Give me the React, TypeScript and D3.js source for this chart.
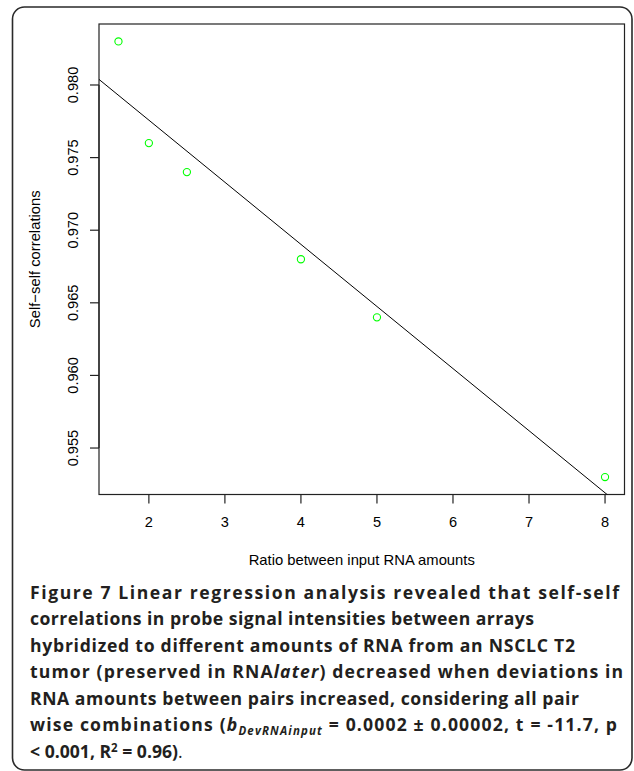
import React from "react";
import * as d3 from "d3";

const xValues = [1.6, 2, 2.5, 4, 5, 8];
const yValues = [0.983, 0.976, 0.974, 0.968, 0.964, 0.953];
const xTicks = [2, 3, 4, 5, 6, 7, 8];
const yTicks = [0.955, 0.96, 0.965, 0.97, 0.975, 0.98];
const xTitle = "Ratio between input RNA amounts";
const yTitle = "Self\u2212self correlations";

type Seg = { t: string; it?: boolean; sub?: boolean; sup?: boolean; reg?: boolean };
const captionLines: Seg[][] = [
  [{ t: "Figure 7 Linear regression analysis revealed that self-self" }],
  [{ t: "correlations in probe signal intensities between arrays" }],
  [{ t: "hybridized to different amounts of RNA from an NSCLC T2" }],
  [{ t: "tumor (preserved in RNA" }, { t: "later", it: true }, { t: ") decreased when deviations in" }],
  [{ t: "RNA amounts between pairs increased, considering all pair" }],
  [
    { t: "wise combinations (" },
    { t: "b", it: true },
    { t: "DevRNAinput", it: true, sub: true },
    { t: " = 0.0002 \u00b1 0.00002, t = -11.7, p" },
  ],
  [{ t: "< 0.001, R" }, { t: "2", sup: true }, { t: " = 0.96)" }, { t: ".", reg: true }],
];
const captionWidths: (number | undefined)[] = [589, 504, 545, 593, 549, 587, undefined];

const W = 634;
const H = 771;
const plot = { left: 99, right: 624.5, top: 24, bottom: 494.5 };

function rRange(v: number[]): [number, number] {
  const [a, b] = d3.extent(v) as [number, number];
  const pad = (b - a) * 0.04;
  return [a - pad, b + pad];
}

export default function App() {
  const x = d3.scaleLinear().domain(rRange(xValues)).range([plot.left, plot.right]);
  const y = d3.scaleLinear().domain(rRange(yValues)).range([plot.bottom, plot.top]);

  const mx = d3.mean(xValues)!;
  const my = d3.mean(yValues)!;
  const sxy = d3.sum(xValues.map((v, i) => (v - mx) * (yValues[i] - my)));
  const sxx = d3.sum(xValues.map((v) => (v - mx) ** 2));
  const slope = sxy / sxx;
  const icpt = my - slope * mx;
  const [x0, x1] = x.domain();
  const linePath = d3.line()([
    [x(x0), y(icpt + slope * x0)],
    [x(x1), y(icpt + slope * x1)],
  ]) as string;

  const chartFont = "'Liberation Sans', Arial, Helvetica, sans-serif";
  const capFont = "'Open Sans', 'Noto Sans', sans-serif";

  return (
    <svg
      width={W}
      height={H}
      viewBox={`0 0 ${W} ${H}`}
      style={{ position: "absolute", left: 0, top: 0, display: "block", background: "#fff" }}
    >
      <rect x={0} y={0} width={W} height={H} fill="#fff" />
      <rect
        x={12.5}
        y={7}
        width={632 - 12.5}
        height={770 - 7}
        rx={12}
        ry={12}
        fill="none"
        stroke="#2a2a2a"
        strokeWidth={1.6}
      />
      <defs>
        <clipPath id="plotclip">
          <rect x={plot.left} y={plot.top} width={plot.right - plot.left} height={plot.bottom - plot.top} />
        </clipPath>
      </defs>
      <rect
        x={plot.left}
        y={plot.top}
        width={plot.right - plot.left}
        height={plot.bottom - plot.top}
        fill="none"
        stroke="#222"
        strokeWidth={1.2}
      />
      <path d={linePath} stroke="#000" strokeWidth={1} fill="none" clipPath="url(#plotclip)" />
      {xValues.map((xv, i) => (
        <circle key={i} cx={x(xv)} cy={y(yValues[i])} r={3.6} fill="none" stroke="#00ff00" strokeWidth={1.1} />
      ))}
      <line x1={x(xTicks[0])} x2={x(xTicks[xTicks.length - 1])} y1={plot.bottom} y2={plot.bottom} stroke="#222" strokeWidth={1.2} />
      {xTicks.map((t) => (
        <g key={t}>
          <line x1={x(t)} x2={x(t)} y1={plot.bottom} y2={plot.bottom + 9} stroke="#222" strokeWidth={1.2} />
          <text x={x(t)} y={527} textAnchor="middle" fontFamily={chartFont} fontSize={14.6} fill="#000">
            {t}
          </text>
        </g>
      ))}
      <line x1={plot.left} x2={plot.left} y1={y(yTicks[0])} y2={y(yTicks[yTicks.length - 1])} stroke="#222" strokeWidth={1.2} />
      {yTicks.map((t) => (
        <g key={t}>
          <line x1={plot.left - 9} x2={plot.left} y1={y(t)} y2={y(t)} stroke="#222" strokeWidth={1.2} />
          <text
            transform={`translate(78,${y(t)}) rotate(-90)`}
            textAnchor="middle"
            fontFamily={chartFont}
            fontSize={14.6}
            fill="#000"
          >
            {d3.format(".3f")(t)}
          </text>
        </g>
      ))}
      <text x={(plot.left + plot.right) / 2} y={564.5} textAnchor="middle" fontFamily={chartFont} fontSize={14.8} fill="#000">
        {xTitle}
      </text>
      <text
        transform={`translate(40,${(plot.top + plot.bottom) / 2}) rotate(-90)`}
        textAnchor="middle"
        fontFamily={chartFont}
        fontSize={14.8}
        fill="#000"
      >
        {yTitle}
      </text>
      {captionLines.map((segs, li) => {
        let shift = 0;
        return (
          <text
            key={li}
            x={30}
            y={598.7 + li * 26.5}
            fontFamily={capFont}
            fontSize={17.6}
            fontWeight={700}
            fill="#231f20"
            textLength={captionWidths[li]}
            lengthAdjust={captionWidths[li] ? "spacing" : undefined}
          >
            {segs.map((s, si) => {
              const target = s.sub ? 4 : s.sup ? -6 : 0;
              const dy = target - shift;
              shift = target;
              return (
                <tspan
                  key={si}
                  dy={dy || undefined}
                  fontStyle={s.it ? "italic" : undefined}
                  fontSize={s.sub || s.sup ? 11.5 : undefined}
                  fontWeight={s.reg ? 400 : undefined}
                >
                  {s.t}
                </tspan>
              );
            })}
          </text>
        );
      })}
    </svg>
  );
}
